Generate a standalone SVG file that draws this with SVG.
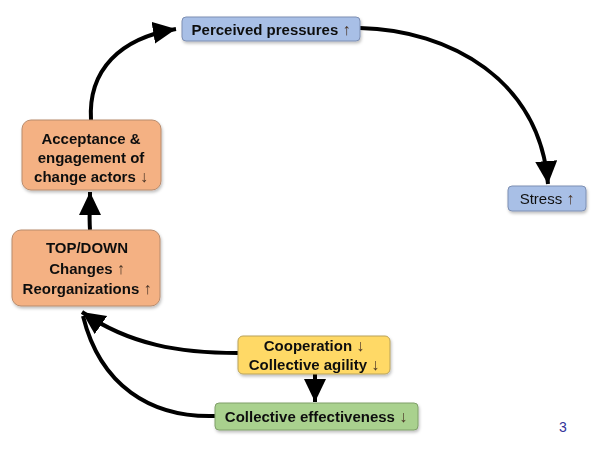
<svg xmlns="http://www.w3.org/2000/svg" width="600" height="450" viewBox="0 0 600 450">
<defs>
<style>
.t{font-family:"Liberation Sans",Arial,sans-serif;font-size:15px;font-weight:bold;fill:#111;text-anchor:middle}
.n{font-weight:normal}
.ar{font-weight:normal;fill:#4a3526;font-size:16px}
.blue{fill:#a8bfe6;stroke:#7d8fb3;stroke-width:1}
.orange{fill:#f4b183;stroke:#b88b6c;stroke-width:1}
.yellow{fill:#ffd966;stroke:#b9a25a;stroke-width:1}
.green{fill:#a9d18e;stroke:#80a06a;stroke-width:1}
.c{fill:none;stroke:#000;stroke-width:4}
</style>
<filter id="sh" x="-10%" y="-20%" width="130%" height="150%">
<feDropShadow dx="1" dy="2" stdDeviation="1.5" flood-color="#000" flood-opacity="0.25"/>
</filter>
<marker id="ah" markerUnits="userSpaceOnUse" markerWidth="26" markerHeight="24" refX="23" refY="11" orient="auto">
<path d="M0,0 L23,11 L0,22 z" fill="#000"/>
</marker>
</defs>
<rect width="600" height="450" fill="#fff"/>
<g id="connectors">
<path class="c" d="M91,120 C88,70 120,38 176,29" marker-end="url(#ah)"/>
<path class="c" d="M360,28 C450,30 540,80 548,184" marker-end="url(#ah)"/>
<path class="c" d="M90,230 C89,215 90,205 90,192" marker-end="url(#ah)"/>
<path class="c" d="M238,353 C180,353 130,345 82,312" marker-end="url(#ah)"/>
<path class="c" d="M215,416 C150,418 100,385 83,316"/>
<path class="c" d="M315,374 L315,402" marker-end="url(#ah)"/>
</g>
<g id="perceived" filter="url(#sh)">
<rect class="blue" x="182" y="17" width="178" height="24" rx="4"/>
<text class="t" x="271" y="34.5">Perceived pressures <tspan class="ar">↑</tspan></text>
</g>
<g id="stress" filter="url(#sh)">
<rect class="blue" x="508" y="186" width="78" height="25" rx="4"/>
<text class="t n" x="547" y="204">Stress <tspan class="ar">↑</tspan></text>
</g>
<g id="acceptance" filter="url(#sh)">
<rect class="orange" x="22" y="120" width="139" height="70" rx="9"/>
<text class="t" x="91" y="144">Acceptance &amp;</text>
<text class="t" x="91" y="163">engagement of</text>
<text class="t" x="91" y="182">change actors <tspan class="ar">↓</tspan></text>
</g>
<g id="topdown" filter="url(#sh)">
<rect class="orange" x="12" y="230" width="148" height="76" rx="9"/>
<text class="t" x="87" y="253">TOP/DOWN</text>
<text class="t" x="87" y="274">Changes <tspan class="ar">↑</tspan></text>
<text class="t" x="87" y="294">Reorganizations <tspan class="ar">↑</tspan></text>
</g>
<g id="cooperation" filter="url(#sh)">
<rect class="yellow" x="238" y="336" width="152" height="38" rx="5"/>
<text class="t" x="314" y="351">Cooperation <tspan class="ar">↓</tspan></text>
<text class="t" x="314" y="370">Collective agility <tspan class="ar">↓</tspan></text>
</g>
<g id="effectiveness" filter="url(#sh)">
<rect class="green" x="215" y="403" width="203" height="27" rx="4"/>
<text class="t" x="316" y="422">Collective effectiveness <tspan class="ar">↓</tspan></text>
</g>
<text x="563" y="432" style="font-family:'Liberation Sans',Arial,sans-serif;font-size:14px;fill:#333399;text-anchor:middle">3</text>
</svg>
